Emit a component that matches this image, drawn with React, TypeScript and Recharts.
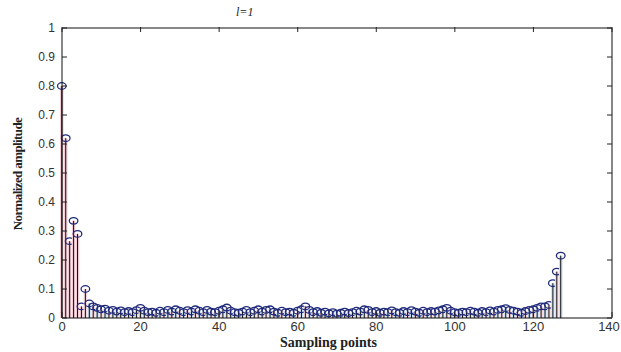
import React from "react";
import { ComposedChart, Bar, XAxis, YAxis, ReferenceLine } from "recharts";

// normalized amplitude per sampling point (index 0..127)
const amplitude = [
  0.8, 0.62, 0.265, 0.335, 0.29, 0.04, 0.1, 0.05, 0.04, 0.035,
  0.03, 0.032, 0.025, 0.028, 0.022, 0.026, 0.02, 0.024, 0.02, 0.027,
  0.035, 0.025, 0.02, 0.022, 0.018, 0.025, 0.02, 0.028, 0.022, 0.03,
  0.025, 0.02, 0.027, 0.022, 0.03, 0.025, 0.02, 0.028, 0.022, 0.02,
  0.025, 0.03, 0.036, 0.025, 0.02, 0.018, 0.022, 0.028, 0.02, 0.025,
  0.03, 0.022, 0.028, 0.03, 0.022, 0.018, 0.025, 0.02, 0.022, 0.018,
  0.025, 0.03, 0.04, 0.028, 0.02, 0.024, 0.018, 0.022, 0.016, 0.02,
  0.015, 0.018, 0.022, 0.017, 0.02, 0.025, 0.022, 0.03, 0.028, 0.02,
  0.024, 0.018, 0.022, 0.02, 0.026, 0.02, 0.018, 0.024, 0.02, 0.027,
  0.022, 0.018, 0.025, 0.02, 0.024, 0.022, 0.026, 0.03, 0.035, 0.025,
  0.02, 0.018, 0.022, 0.02, 0.025, 0.022, 0.018, 0.024, 0.02, 0.026,
  0.022, 0.028, 0.03, 0.034, 0.028, 0.025, 0.022, 0.018, 0.024, 0.028,
  0.03, 0.035, 0.04, 0.04, 0.045, 0.12, 0.16, 0.215,
];

const xTicks = [0, 20, 40, 60, 80, 100, 120, 140];
const yTicks = [0, 0.1, 0.2, 0.3, 0.4, 0.5, 0.6, 0.7, 0.8, 0.9, 1];

const data = amplitude.map((v, i) => ({ n: i, v }));

// plot box size (621 - 62 - 9, 352 - 28 - 34), used for the mirrored inner ticks
const PLOT_W = 550;
const PLOT_H = 290;

const tickFont = { fontFamily: "Liberation Sans, Arial, sans-serif", fontSize: 12, fill: "#333" };

function Stem(props: any) {
  const { x, y, width, height, index } = props;
  const cx = x + width / 2;
  return (
    <g>
      <rect x={x} y={y} width={width} height={height} fill={index < 6 ? "#f2cdd6" : index % 2 ? "#cfe2f3" : "#f2d6dc"} />
      <line x1={cx} y1={y} x2={cx} y2={y + height} stroke="#111" strokeWidth={1} />
      <ellipse cx={cx} cy={y} rx={4.3} ry={3.3} fill="none" stroke="#1f2a7a" strokeWidth={1.3} />
    </g>
  );
}

function YTick(props: any) {
  const { x, y, payload } = props;
  return (
    <g>
      <text x={x} y={y} dy="0.35em" textAnchor="end" {...tickFont}>{payload.value}</text>
      <line x1={x + 7} y1={y} x2={x + 12} y2={y} stroke="#222" />
      <line x1={x + 7 + PLOT_W} y1={y} x2={x + 2 + PLOT_W} y2={y} stroke="#222" />
    </g>
  );
}

function XTick(props: any) {
  const { x, y, payload } = props;
  // last label sits at the page edge; nudge it in so it is not clipped
  const dx = payload.value === 140 ? -3 : 0;
  return (
    <g>
      <text x={x + dx} y={y} dy="0.75em" textAnchor="middle" {...tickFont} fontSize={13}>{payload.value}</text>
      <line x1={x} y1={y - 4} x2={x} y2={y - 9} stroke="#222" />
      <line x1={x} y1={y - 4 - PLOT_H} x2={x} y2={y + 1 - PLOT_H} stroke="#222" />
    </g>
  );
}

export default function App() {
  return (
    <div style={{ position: "absolute", left: 0, top: 0, width: 621, height: 352, background: "#fff" }}>
      <ComposedChart width={621} height={352} data={data} margin={{ top: 28, right: 9, left: 0, bottom: 0 }}>
        <XAxis dataKey="n" type="number" domain={[0, 140]} ticks={xTicks} height={34}
          axisLine={{ stroke: "#111" }} tickLine={false} tickSize={0} tickMargin={3} tick={<XTick />} interval={0} />
        <YAxis domain={[0, 1]} ticks={yTicks} width={62} axisLine={{ stroke: "#111" }} tickLine={false}
          tickSize={0} tickMargin={7} tick={<YTick />} interval={0} />
        <ReferenceLine x={140} stroke="#111" />
        <ReferenceLine y={1} stroke="#111" />
        <Bar dataKey="v" barSize={4} shape={<Stem />} isAnimationActive={false} />
      </ComposedChart>
      <div style={{ position: "absolute", left: 236, top: 5, fontFamily: "Liberation Serif, serif", fontStyle: "italic", fontSize: 12, color: "#222" }}>
        l=1
      </div>
      <div style={{ position: "absolute", left: 280, top: 335, fontFamily: "Liberation Serif, serif", fontWeight: "bold", fontSize: 14, color: "#222", whiteSpace: "nowrap", lineHeight: "15px" }}>
        Sampling points
      </div>
      <div style={{ position: "absolute", left: 18, top: 174, width: 0, height: 0 }}>
        <div style={{ position: "absolute", transform: "translate(-50%, -50%) rotate(-90deg)", fontFamily: "Liberation Serif, serif", fontWeight: "bold", fontSize: 13, letterSpacing: -0.6, color: "#222", whiteSpace: "nowrap" }}>
          Normalized amplitude
        </div>
      </div>
    </div>
  );
}
